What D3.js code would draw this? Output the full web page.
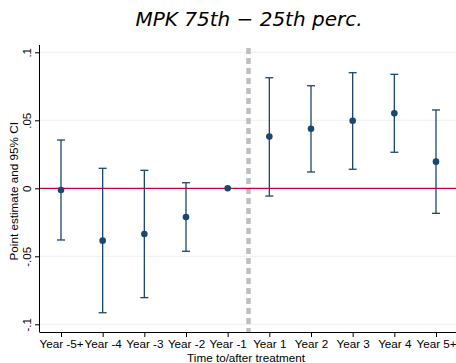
<!DOCTYPE html>
<html>
<head>
<meta charset="utf-8">
<script src="https://cdn.jsdelivr.net/npm/d3@7"></script>
<style>
  html, body { margin: 0; padding: 0; background: #fff; }
  svg { display: block; }
</style>
</head>
<body>
<svg id="chart" width="456" height="363"></svg>
<script>
// Event-study estimates relative to treatment year
const categories = ["Year -5+", "Year -4", "Year -3", "Year -2", "Year -1",
                    "Year 1", "Year 2", "Year 3", "Year 4", "Year 5+"];
const estimates = [-0.0013, -0.0385, -0.0336, -0.0211, 0, 0.0380, 0.0438, 0.0497, 0.0551, 0.0196];
const ciLower   = [-0.0380, -0.0915, -0.0804, -0.0463, 0, -0.0057, 0.0120, 0.0140, 0.0265, -0.0184];
const ciUpper   = [ 0.0355,  0.0147,  0.0132,  0.0041, 0, 0.0813, 0.0754, 0.0850, 0.0838, 0.0576];
const yTicks = [-0.1, -0.05, 0, 0.05, 0.1];
const yTickLabels = ["-.1", "-.05", "0", ".05", ".1"];

const svg = d3.select("#chart");
const plotLeft = 40, plotRight = 456, plotTop = 45, plotBottom = 332;

const x = d3.scalePoint().domain(categories).range([61, 436]);
const y = d3.scaleLinear().domain([-0.1, 0.1]).range([324.3, 52.3]);

const navy = "#1a476f";
const font = "'Liberation Sans', Arial, sans-serif";

// Horizontal grid
svg.append("g").selectAll("line").data(yTicks.filter(d => d !== 0)).join("line")
  .attr("x1", plotLeft).attr("x2", plotRight)
  .attr("y1", d => y(d)).attr("y2", d => y(d))
  .attr("stroke", "#eaf2f3").attr("stroke-width", 1);

// Treatment separator
const sepX = (x("Year -1") + x("Year 1")) / 2;
svg.append("line")
  .attr("x1", sepX).attr("x2", sepX).attr("y1", plotTop + 3).attr("y2", plotBottom)
  .attr("stroke", "#c0c0c0").attr("stroke-width", 4.5)
  .attr("stroke-dasharray", "6,4");

// Zero reference
svg.append("line")
  .attr("x1", plotLeft).attr("x2", plotRight).attr("y1", y(0)).attr("y2", y(0))
  .attr("stroke", "#cc0033").attr("stroke-width", 1.2);

// Confidence intervals
const rows = categories.map((c, i) => ({ c, est: estimates[i], lo: ciLower[i], hi: ciUpper[i] }));
const ci = svg.append("g").selectAll("g").data(rows.filter(d => d.hi !== d.lo)).join("g")
  .attr("stroke", navy).attr("stroke-width", 1.3).attr("fill", "none");
ci.append("line")
  .attr("x1", d => x(d.c)).attr("x2", d => x(d.c))
  .attr("y1", d => y(d.lo)).attr("y2", d => y(d.hi));
ci.append("line")
  .attr("x1", d => x(d.c) - 4).attr("x2", d => x(d.c) + 4)
  .attr("y1", d => y(d.lo)).attr("y2", d => y(d.lo));
ci.append("line")
  .attr("x1", d => x(d.c) - 4).attr("x2", d => x(d.c) + 4)
  .attr("y1", d => y(d.hi)).attr("y2", d => y(d.hi));

// Point estimates
svg.append("g").selectAll("circle").data(rows).join("circle")
  .attr("cx", d => x(d.c)).attr("cy", d => y(d.est)).attr("r", 3.3)
  .attr("fill", navy);

// Y axis with vertical tick labels
const yAxis = d3.axisLeft(y).tickValues(yTicks)
  .tickFormat((d, i) => yTickLabels[i]).tickSize(5);
const gy = svg.append("g").attr("transform", `translate(${plotLeft},0)`).call(yAxis);
gy.select(".domain").attr("d", `M-0.5,${plotTop}V${plotBottom}`).attr("stroke", "#000");
gy.selectAll(".tick line").attr("stroke", "#000");
gy.selectAll(".tick text")
  .attr("font-family", font).attr("font-size", 11.5).attr("fill", "#000")
  .attr("text-anchor", "middle")
  .attr("transform", "rotate(-90)")
  .attr("x", 0).attr("y", -9).attr("dy", 0);

// X axis
const xAxis = d3.axisBottom(x).tickSize(5).tickPadding(3);
const gx = svg.append("g").attr("transform", `translate(0,${plotBottom})`).call(xAxis);
gx.select(".domain").attr("d", `M${plotLeft - 0.5},0.5H${plotRight}`).attr("stroke", "#000");
gx.selectAll(".tick line").attr("stroke", "#000");
gx.selectAll(".tick text")
  .attr("font-family", font).attr("font-size", 11.7).attr("fill", "#000");

// Axis titles
svg.append("text")
  .attr("x", 246).attr("y", 362)
  .attr("text-anchor", "middle").attr("font-family", font).attr("font-size", 11.7)
  .text("Time to/after treatment");
svg.append("text")
  .attr("transform", `translate(18,${y(0) + 3}) rotate(-90)`)
  .attr("text-anchor", "middle").attr("font-family", font).attr("font-size", 11.7)
  .text("Point estimate and 95% CI");

// Title
svg.append("text")
  .attr("x", 249).attr("y", 26)
  .attr("text-anchor", "middle").attr("font-family", "'DejaVu Sans', sans-serif")
  .attr("font-style", "italic").attr("font-size", 20)
  .text("MPK 75th − 25th perc.");
</script>
</body>
</html>
